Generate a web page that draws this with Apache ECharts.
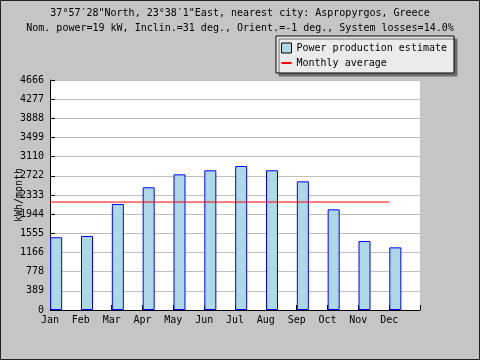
<!DOCTYPE html>
<html>
<head>
<meta charset="utf-8">
<script src="https://cdn.jsdelivr.net/npm/echarts@6/dist/echarts.min.js"></script>
<style>html,body{margin:0;padding:0;background:#c5c5c5}#c{width:480px;height:360px}</style>
</head>
<body>
<div id="c"></div>
<script>
const months = ['Jan','Feb','Mar','Apr','May','Jun','Jul','Aug','Sep','Oct','Nov','Dec'];
const production = [1475, 1501, 2150, 2489, 2752, 2834, 2921, 2834, 2610, 2042, 1400, 1271];
const monthlyAverage = 2190;
const yTickLabels = ['0','389','778','1166','1555','1944','2333','2722','3110','3499','3888','4277','4666'];
const yMax = 4666;
const titleLines = ['37°57′28"North, 23°38′1"East, nearest city: Aspropyrgos, Greece',
  'Nom. power=19 kW, Inclin.=31 deg., Orient.=-1 deg., System losses=14.0%'];
const seriesNames = ['Power production estimate', 'Monthly average'];

const FONT = 'DejaVu Sans Mono';
const barShift = 0.2; // bars start at the month tick
const yStep = yMax / (yTickLabels.length - 1);
const titleStyle = {fontFamily: FONT, fontSize: 10, fontWeight: 'normal', color: '#000', lineHeight: 12};

const chart = echarts.init(document.getElementById('c'), null, {renderer: 'canvas'});
chart.setOption({
  backgroundColor: '#c5c5c5',
  animation: false,
  title: titleLines.map((t, i) => ({
    text: t, left: 'center', top: 7 + i * 15, padding: 0, textStyle: titleStyle
  })),
  legend: {
    orient: 'vertical', left: 276, top: 36,
    padding: [6, 7, 4, 5],
    itemGap: 3, itemWidth: 10, itemHeight: 10,
    backgroundColor: '#ebebeb', borderColor: '#000', borderWidth: 1,
    shadowColor: '#6e6e6e', shadowOffsetX: 3, shadowOffsetY: 3, shadowBlur: 0,
    textStyle: {fontFamily: FONT, fontSize: 10, color: '#000', lineHeight: 12},
    data: [
      {name: seriesNames[0], icon: 'rect', itemStyle: {color: '#add8e6', borderColor: '#000', borderWidth: 1}},
      {name: seriesNames[1], icon: 'path://M0,0H0.01V0.01H0ZM0,4H10V6H0ZM9.99,9.99H10V10H9.99Z',
       itemStyle: {color: '#ff0000', borderWidth: 0}}
    ]
  },
  grid: {left: 50, right: 60, top: 80, bottom: 50, show: true, backgroundColor: '#fff', borderWidth: 0,
         containLabel: false, outerBoundsMode: 'none'},
  xAxis: {
    type: 'value', min: 0, max: months.length, interval: 1,
    axisLine: {show: true, lineStyle: {color: '#000', width: 1}},
    axisTick: {show: true, inside: true, length: 5, lineStyle: {color: '#000'}},
    splitLine: {show: false},
    axisLabel: {
      margin: 5, fontFamily: FONT, fontSize: 10, color: '#000',
      showMaxLabel: true,
      formatter: v => months[Math.round(v)] || ''
    }
  },
  yAxis: {
    type: 'value', min: 0, max: yMax, interval: yStep,
    name: 'kWh/month', nameLocation: 'middle', nameGap: 26, nameRotate: 90, nameMoveOverlap: false,
    nameTextStyle: {fontFamily: FONT, fontSize: 10, color: '#000'},
    axisLine: {show: true, lineStyle: {color: '#000', width: 1}},
    axisTick: {show: true, inside: true, length: 5, lineStyle: {color: '#000'}},
    splitLine: {show: true, lineStyle: {color: '#c0c0c0', width: 1}},
    axisLabel: {
      margin: 6, fontFamily: FONT, fontSize: 10, color: '#000',
      formatter: v => yTickLabels[Math.round(v / yStep)]
    }
  },
  series: [
    {
      name: seriesNames[0], type: 'bar', barWidth: 12,
      itemStyle: {color: '#add8e6', borderColor: '#0000ff', borderWidth: 1},
      data: production.map((v, i) => [i + barShift, v])
    },
    {
      name: seriesNames[1], type: 'line', symbol: 'none', showSymbol: false,
      lineStyle: {color: '#ff0000', width: 1},
      itemStyle: {color: '#ff0000'},
      data: [[0, monthlyAverage], [months.length - 1, monthlyAverage]]
    }
  ],
  graphic: [
    {type: 'rect', silent: true, z: 100, shape: {x: 0.5, y: 0.5, width: 479, height: 359},
     style: {fill: null, stroke: '#222', lineWidth: 1}}
  ]
});
</script>
</body>
</html>
